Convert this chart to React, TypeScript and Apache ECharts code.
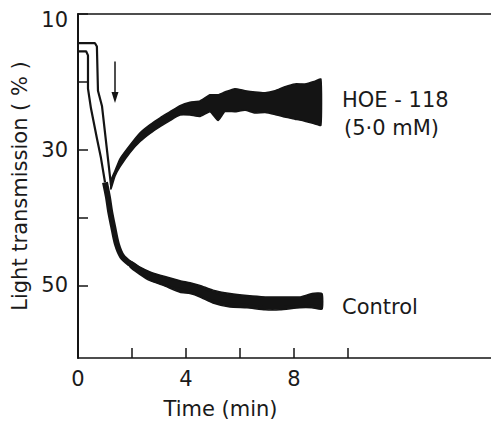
import React, { useEffect, useRef } from "react";
import * as echarts from "echarts";

// Axis ticks / labels
const xTicks = [0, 2, 4, 6, 8, 10];
const xLabels = [0, 4, 8];
const yTicks = [10, 20, 30, 40, 50];
const yLabels = [10, 30, 50];

// HOE-118 trace: thin initial part (time min, transmission %)
const hoeLineT = [0, 0.63, 0.7, 0.74, 0.89, 1.22];
const hoeLineV = [14.3, 14.3, 14.8, 21.3, 23.6, 35.2];

// HOE-118 trace: recovering, noisy part (band edges)
const hoeBandT = [1.22, 1.37, 1.56, 1.93, 2.3, 2.67, 3.04, 3.41, 3.78, 4.15, 4.52, 4.89, 5.19, 5.44, 5.81, 6.19, 6.56, 6.93, 7.3, 7.67, 8.04, 8.41, 8.78, 9.0];
const hoeBandTop = [34.5, 33.1, 31.3, 29.3, 27.5, 26.3, 25.3, 24.4, 23.5, 23.0, 22.8, 21.9, 21.9, 21.5, 21.0, 21.3, 21.5, 21.6, 21.3, 20.7, 20.3, 20.3, 19.9, 19.6];
const hoeBandBottom = [35.8, 33.9, 32.5, 30.4, 28.8, 27.6, 26.6, 25.7, 24.9, 24.9, 25.1, 24.4, 25.7, 24.4, 24.4, 24.2, 24.6, 24.5, 24.8, 25.2, 25.5, 25.8, 26.2, 26.4];

// Control trace: thin initial part
const ctrlThinT = [0, 0.3, 0.37, 0.37, 0.48, 0.7, 0.85, 1.0];
const ctrlThinV = [15.5, 15.5, 16.1, 21.0, 23.9, 28.3, 31.2, 34.8];

// Control trace: thick part
const ctrlT = [1.0, 1.11, 1.19, 1.3, 1.44, 1.63, 1.93, 2.3, 2.67, 3.22, 3.96, 4.52, 5.0, 5.63, 6.26, 6.93, 7.48, 8.22, 9.04];
const ctrlV = [34.8, 37.0, 39.1, 41.3, 43.9, 45.7, 46.8, 47.8, 48.6, 49.4, 50.1, 50.9, 51.6, 52.2, 52.3, 52.6, 52.6, 52.5, 52.3];

// Control trace: noisy band edges
const ctrlBandT = [1.93, 2.3, 2.67, 3.22, 3.78, 4.15, 4.52, 5.0, 5.63, 6.26, 6.93, 7.48, 8.22, 8.67, 9.04];
const ctrlBandTop = [46.4, 47.3, 48.0, 48.7, 49.3, 49.6, 50.0, 50.7, 51.2, 51.5, 51.7, 51.7, 51.7, 51.2, 51.2];
const ctrlBandBottom = [47.3, 48.4, 49.3, 50.1, 51.0, 51.2, 51.7, 52.6, 53.2, 53.3, 53.6, 53.6, 53.3, 53.3, 53.5];

// Arrow marking addition (time, from, to)
const arrowT = 1.37;
const arrowFrom = 17.0;
const arrowTo = 22.3;

const INK = "#141414";
const FONT = '"DejaVu Sans", sans-serif';

function zip(t: number[], v: number[]) {
  return t.map((x, i) => [x, v[i]]);
}

function bandSeries(t: number[], top: number[], bottom: number[]) {
  return {
    type: "custom",
    silent: true,
    clip: false,
    data: [[t[0], top[0]]],
    renderItem: (_params: any, api: any) => {
      const pts: number[][] = [];
      for (let i = 0; i < t.length; i++) pts.push(api.coord([t[i], top[i]]));
      for (let i = t.length - 1; i >= 0; i--) pts.push(api.coord([t[i], bottom[i]]));
      return {
        type: "polygon",
        shape: { points: pts, smooth: 0.15 },
        style: { fill: INK, stroke: INK, lineWidth: 1.5, lineJoin: "round" },
      };
    },
  };
}

export default function App() {
  const ref = useRef<HTMLDivElement>(null);
  useEffect(() => {
    if (!ref.current) return;
    const chart = echarts.init(ref.current, null, { renderer: "svg" });
    const tickLabelStyle = { fontSize: 21, fontFamily: FONT, color: "#1a1a1a" };
    chart.setOption({
      animation: false,
      backgroundColor: "#ffffff",
      grid: { left: 78, top: 14, right: 0, bottom: 60 },
      xAxis: [
        {
          type: "value",
          min: 0,
          max: 15.3,
          position: "bottom",
          name: "Time (min)",
          nameLocation: "middle",
          nameGap: 40,
          nameTextStyle: { fontSize: 21, fontFamily: FONT, color: "#1a1a1a", padding: [0, 128, 0, 0] },
          axisLine: { show: true, onZero: false, lineStyle: { color: INK, width: 1.6 } },
          axisTick: { show: true, inside: true, length: 10, customValues: xTicks, lineStyle: { color: INK, width: 1.5 } },
          axisLabel: { show: true, customValues: xLabels, margin: 10, ...tickLabelStyle },
          splitLine: { show: false },
        },
        {
          type: "value",
          min: 0,
          max: 15.3,
          position: "top",
          axisLine: { show: true, onZero: false, lineStyle: { color: INK, width: 1.6 } },
          axisTick: { show: false },
          axisLabel: { show: false },
          splitLine: { show: false },
        },
      ],
      yAxis: {
        type: "value",
        inverse: true,
        min: 10,
        max: 60.7,
        name: "Light transmission ( % )",
        nameLocation: "middle",
        nameGap: 47,
        nameRotate: 90,
        nameTextStyle: { fontSize: 21, fontFamily: FONT, color: "#1a1a1a" },
        axisLine: { show: true, onZero: false, lineStyle: { color: INK, width: 2 } },
        axisTick: { show: true, inside: true, length: 10, customValues: yTicks, lineStyle: { color: INK, width: 1.5 } },
        axisLabel: {
          show: true,
          customValues: yLabels,
          margin: 10,
          ...tickLabelStyle,
          formatter: (v: number) => (v === 10 ? "{top|10}" : String(v)),
          rich: { top: { fontSize: 21, fontFamily: FONT, color: "#1a1a1a", padding: [12, 0, 0, 0] } },
        },
        splitLine: { show: false },
      },
      series: [
        {
          name: "HOE-118",
          type: "line",
          data: zip(hoeLineT, hoeLineV),
          showSymbol: false,
          lineStyle: { color: INK, width: 2.2 },
          silent: true,
          markLine: {
            silent: true,
            symbol: ["none", "triangle"],
            symbolSize: [7, 11],
            label: { show: false },
            lineStyle: { color: INK, width: 1.5, type: "solid" },
            data: [[{ coord: [arrowT, arrowFrom] }, { coord: [arrowT, arrowTo] }]],
          },
        },
        bandSeries(hoeBandT, hoeBandTop, hoeBandBottom),
        {
          name: "Control thin",
          type: "line",
          data: zip(ctrlThinT, ctrlThinV),
          showSymbol: false,
          lineStyle: { color: INK, width: 2.2 },
          silent: true,
        },
        {
          name: "Control",
          type: "line",
          data: zip(ctrlT, ctrlV),
          showSymbol: false,
          smooth: 0.3,
          lineStyle: { color: INK, width: 6 },
          silent: true,
        },
        bandSeries(ctrlBandT, ctrlBandTop, ctrlBandBottom),
      ],
      graphic: [
        { type: "text", x: 342, y: 100, style: { text: "HOE - 118", font: `21px ${FONT}`, fill: "#1a1a1a", verticalAlign: "middle" } },
        { type: "text", x: 344, y: 128, style: { text: "(5·0 mM)", font: `21px ${FONT}`, fill: "#1a1a1a", verticalAlign: "middle" } },
        { type: "text", x: 342, y: 307, style: { text: "Control", font: `21px ${FONT}`, fill: "#1a1a1a", verticalAlign: "middle" } },
      ],
    });
    return () => chart.dispose();
  }, []);
  return (
    <div
      ref={ref}
      style={{ position: "fixed", left: 0, top: 0, width: 491, height: 424, background: "#ffffff" }}
    />
  );
}
